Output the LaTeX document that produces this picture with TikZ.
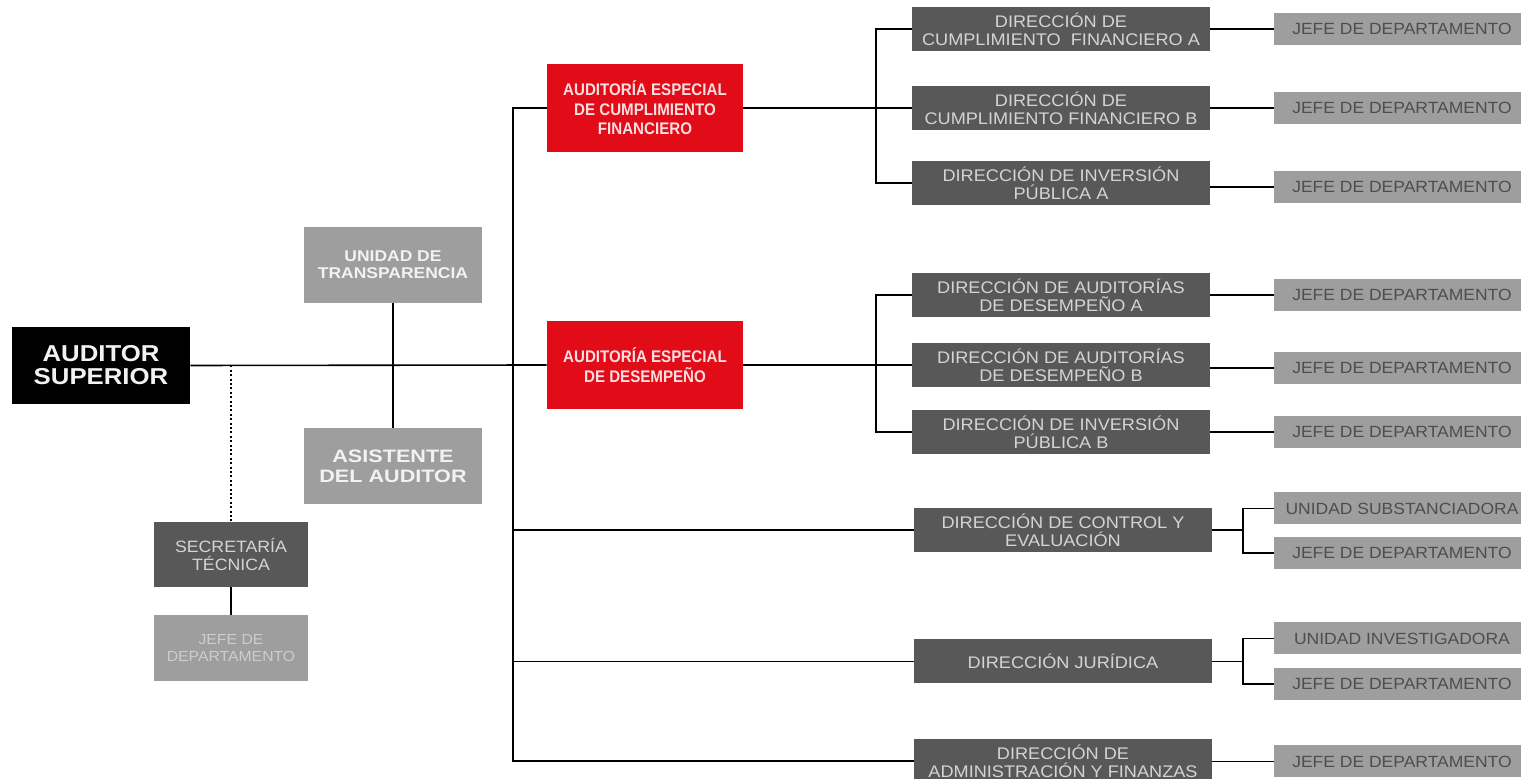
\documentclass[tikz,border=0pt]{standalone}
\usepackage{fontspec}
\setmainfont{Liberation Sans}
\newfontfamily\supfont[FakeStretch=1.12]{Liberation Sans}
\newfontfamily\aefont[FakeStretch=0.9]{Liberation Sans}
\newfontfamily\unifont[FakeStretch=1.12]{Liberation Sans}
\newfontfamily\asifont[FakeStretch=1.2]{Liberation Sans}
\newfontfamily\dirfont[FakeStretch=1.08]{Liberation Sans}
\definecolor{asfred}{RGB}{226,12,24}
\definecolor{aetext}{RGB}{250,222,224}
\definecolor{dirgray}{RGB}{88,88,88}
\definecolor{jefegray}{RGB}{158,158,158}
\definecolor{dirtext}{RGB}{212,212,212}
\definecolor{jefetext}{RGB}{78,78,78}
\definecolor{unitext}{RGB}{242,242,242}
\definecolor{sectext}{RGB}{205,205,205}

\begin{document}
\begin{tikzpicture}[
        x=0.5pt, y=-0.5pt,
        SupCfg/.style={
            fill=black, text=unitext, inner sep=0pt, align=center,
            minimum width=89pt, minimum height=38.5pt,
            font=\supfont\bfseries\fontsize{11.5}{11.5}\selectfont
        },
        AECfg/.style={
            fill=asfred, text=aetext, inner sep=0pt, align=center,
            minimum width=98pt, minimum height=44pt,
            font=\aefont\bfseries\fontsize{8.4}{9.8}\selectfont
        },
        UniCfg/.style={
            fill=jefegray, text=unitext, inner sep=0pt, align=center,
            minimum width=89pt, minimum height=38pt
        },
        DirCfg/.style={
            fill=dirgray, text=dirtext, inner sep=0pt, align=center,
            minimum width=149pt, minimum height=22pt,
            font=\dirfont\fontsize{8.4}{9}\selectfont
        },
        JefeCfg/.style={
            fill=jefegray, text=jefetext, inner sep=0pt,
            minimum width=128pt, minimum height=16pt,
            font=\dirfont\fontsize{8.1}{9}\selectfont
        },
        Link/.style={line width=0.8pt}
    ]

    \useasboundingbox (0,0) rectangle (1521,779);
    \clip (0,0) rectangle (1521,779);
    \fill[white] (0,0) rectangle (1521,779);

    %left side
    \node[SupCfg] (sup) at (101,365.5) {AUDITOR\\SUPERIOR};
    \node[UniCfg,font=\unifont\bfseries\fontsize{7.8}{8.5}\selectfont] (transp) at (393,265) {UNIDAD DE\\TRANSPARENCIA};
    \node[UniCfg,font=\asifont\bfseries\fontsize{9}{10}\selectfont] (asist) at (393,466) {ASISTENTE\\DEL AUDITOR};
    \node[DirCfg,minimum width=77pt,minimum height=32.5pt,font=\dirfont\fontsize{8.2}{9}\selectfont] (secr) at (231,554.5) {SECRETARÍA\\TÉCNICA};
    \node[UniCfg,minimum width=77pt,minimum height=33pt,text=sectext,font=\dirfont\fontsize{7.3}{8.5}\selectfont] (jefesec) at (231,648) {JEFE DE\\DEPARTAMENTO};

    %auditorias especiales
    \node[AECfg] (aecf) at (645,108) {AUDITORÍA ESPECIAL\\DE CUMPLIMIENTO\\FINANCIERO};
    \node[AECfg] (aed) at (645,365) {AUDITORÍA ESPECIAL\\DE DESEMPEÑO};

    %direcciones
    \node[DirCfg] (dcfa) at (1061,29) {DIRECCIÓN DE\\CUMPLIMIENTO\ \ FINANCIERO A};
    \node[DirCfg] (dcfb) at (1061,108) {DIRECCIÓN DE\\CUMPLIMIENTO FINANCIERO B};
    \node[DirCfg] (dipa) at (1061,183) {DIRECCIÓN DE INVERSIÓN\\PÚBLICA A};
    \node[DirCfg] (dada) at (1061,295) {DIRECCIÓN DE AUDITORÍAS\\DE DESEMPEÑO A};
    \node[DirCfg] (dadb) at (1061,365) {DIRECCIÓN DE AUDITORÍAS\\DE DESEMPEÑO B};
    \node[DirCfg] (dipb) at (1061,432) {DIRECCIÓN DE INVERSIÓN\\PÚBLICA B};
    \node[DirCfg] (dce) at (1063,530) {DIRECCIÓN DE CONTROL Y\\EVALUACIÓN};
    \node[DirCfg] (dj) at (1063,661.5) {DIRECCIÓN JURÍDICA};
    \node[DirCfg] (daf) at (1063,761) {DIRECCIÓN DE\\ADMINISTRACIÓN Y FINANZAS};

    %jefes de departamento
    \node[JefeCfg] (j1) at (1402,29) {JEFE DE DEPARTAMENTO};
    \node[JefeCfg] (j2) at (1402,108) {JEFE DE DEPARTAMENTO};
    \node[JefeCfg] (j3) at (1402,187) {JEFE DE DEPARTAMENTO};
    \node[JefeCfg] (j4) at (1402,295) {JEFE DE DEPARTAMENTO};
    \node[JefeCfg] (j5) at (1402,368) {JEFE DE DEPARTAMENTO};
    \node[JefeCfg] (j6) at (1402,432) {JEFE DE DEPARTAMENTO};
    \node[JefeCfg] (subst) at (1402,508.5) {UNIDAD SUBSTANCIADORA};
    \node[JefeCfg] (j7) at (1402,553) {JEFE DE DEPARTAMENTO};
    \node[JefeCfg] (inv) at (1402,638.5) {UNIDAD INVESTIGADORA};
    \node[JefeCfg] (j8) at (1402,684) {JEFE DE DEPARTAMENTO};
    \node[JefeCfg] (j9) at (1402,761.5) {JEFE DE DEPARTAMENTO};

    \coordinate (trk) at (513,108);
    \coordinate (bk1) at (876,108);
    \coordinate (bk2) at (876,365);
    \coordinate (bk3) at (1243,530);
    \coordinate (bk4) at (1243,661.5);

    %connections
    \draw[Link] (sup.east) -- (aed.west);
    \draw[Link] (transp.south) -- (asist.north);
    \draw[Link,line width=1pt,dash pattern=on 1pt off 1.2pt] (secr.north |- sup.east) -- (secr.north);
    \draw[Link] (secr.south) -- (jefesec.north);
    \draw[Link] (aecf.west) -- (trk) |- (daf.west);
    \draw[Link] (trk |- dce.west) -- (dce.west);
    \draw[Link] (trk |- dj.west) -- (dj.west);

    \draw[Link] (aecf.east) -- (dcfb.west);
    \draw[Link] (dcfa.west) -| (bk1) |- (dipa.west);
    \draw[Link] (aed.east) -- (dadb.west);
    \draw[Link] (dada.west) -| (bk2) |- (dipb.west);
    \draw[Link] (dce.east) -- (bk3);
    \draw[Link] (subst.west) -| (bk3) |- (j7.west);
    \draw[Link] (dj.east) -- (bk4);
    \draw[Link] (inv.west) -| (bk4) |- (j8.west);

    \draw[Link] (dcfa.east |- j1.west) -- (j1.west);
    \draw[Link] (dcfb.east |- j2.west) -- (j2.west);
    \draw[Link] (dipa.east |- j3.west) -- (j3.west);
    \draw[Link] (dada.east |- j4.west) -- (j4.west);
    \draw[Link] (dadb.east |- j5.west) -- (j5.west);
    \draw[Link] (dipb.east |- j6.west) -- (j6.west);
    \draw[Link] (daf.east |- j9.west) -- (j9.west);

\end{tikzpicture}
\end{document}
